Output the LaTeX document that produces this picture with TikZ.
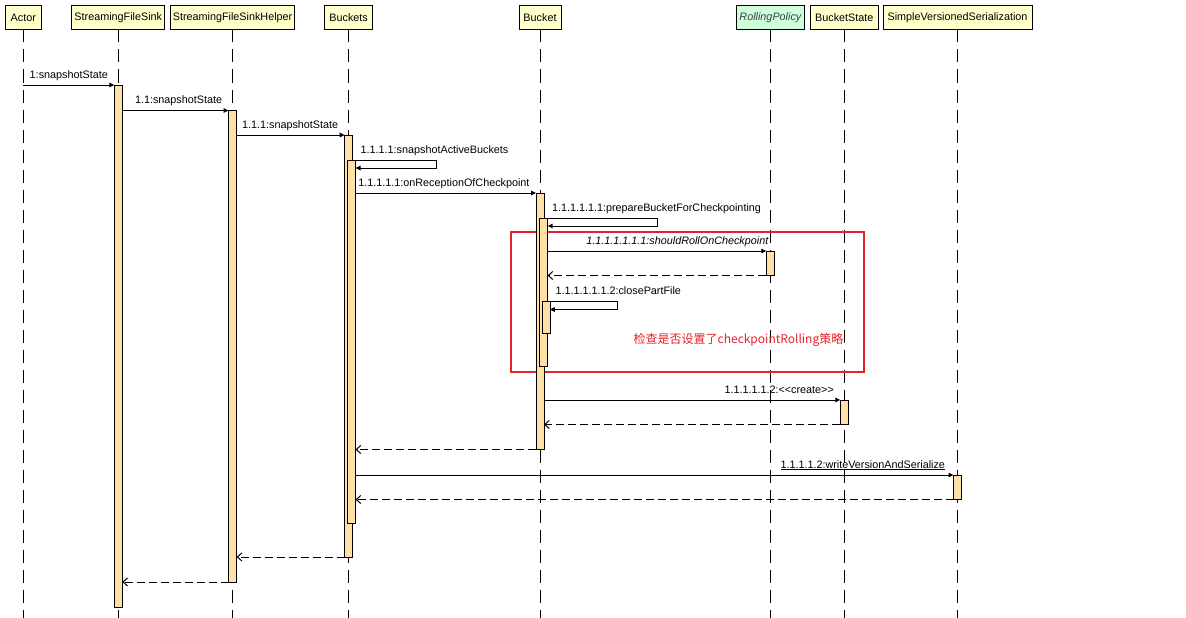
\documentclass[tikz,border=0pt]{standalone}
\usepackage{fontspec}
\setmainfont{Liberation Sans}
\newfontfamily\cjk{Noto Sans CJK SC}
\usetikzlibrary{arrows.meta}
\definecolor{headfill}{RGB}{255,255,204}
\definecolor{policyfill}{RGB}{204,255,218}
\definecolor{barfill}{RGB}{255,224,168}
\definecolor{notered}{RGB}{230,34,42}
\newcommand{\msgfont}{\fontsize{10.8}{12}\selectfont}

\begin{document}
\begin{tikzpicture}[x=1pt,y=-1pt,line width=1pt,
  head/.style={draw,fill=headfill,minimum height=24pt,inner sep=0pt,outer sep=0pt,font=\msgfont},
  life/.style={dash pattern=on 13pt off 7pt},
  bar/.style={draw,fill=barfill,minimum width=8pt,inner sep=0pt,outer sep=0pt},
  call/.style={-{Triangle[length=5pt,width=4.5pt]}},
  back/.style={dash pattern=on 8pt off 4pt,-{Straight Barb[length=4.5pt,width=8pt]}},
  lbl/.style={font=\msgfont,inner sep=0pt,pos=1,anchor=base east,xshift=-6pt,yshift=7pt},
  selflbl/.style={font=\msgfont,inner sep=0pt,anchor=base west,xshift=7.5pt,yshift=7pt}]

\useasboundingbox (0,0) rectangle (1186,618);
\coordinate (E) at (0,618);

\node[head,minimum width=36pt] (Actor) at (23.3,17.5) {Actor};
\node[head,minimum width=93pt] (Sink) at (118.3,17.5) {StreamingFileSink};
\node[head,minimum width=124pt] (Helper) at (232.6,17.5) {StreamingFileSinkHelper};
\node[head,minimum width=48pt] (Buckets) at (348.6,17.5) {Buckets};
\node[head,minimum width=42pt] (Bucket) at (540,17.5) {Bucket};
\node[head,minimum width=68pt,fill=policyfill,font=\msgfont\itshape,text=black!75] (Policy) at (770.4,17.5) {RollingPolicy};
\node[head,minimum width=68pt] (State) at (844.3,17.5) {BucketState};
\node[head,minimum width=149pt] (Serial) at (957.5,17.5) {SimpleVersionedSerialization};

\foreach \n in {Actor,Sink,Helper,Buckets,Bucket,Policy,State,Serial}
  \draw[life] (\n.south) -- (\n.south |- E);

\node[draw=notered,line width=1.5pt,minimum width=353pt,minimum height=140pt,inner sep=0pt] (Check) at (687.5,302) {};
\node[text=notered,font=\cjk\fontsize{12}{14}\selectfont,inner sep=0pt] (CheckText) at (738.5,340) {检查是否设置了checkpointRolling策略};

\node[bar,minimum height=522pt] (A_1) at (118.3,346) {};
\node[bar,minimum height=471.5pt] (A_2) at (232.6,346.25) {};
\node[bar,minimum height=422pt] (A_3) at (348.7,346) {};
\node[bar,minimum height=363.5pt] (A_4) at (351.5,341.75) {};
\node[bar,minimum height=256.5pt] (A_5) at (540,321.25) {};
\node[bar,minimum height=148pt] (A_6) at (543.5,292) {};
\node[bar,minimum height=31.5pt] (A_7) at (546.3,317.25) {};
\node[bar,minimum height=24.5pt] (A_8) at (770.3,263.25) {};
\node[bar,minimum height=24.5pt] (A_9) at (844.3,412.25) {};
\node[bar,minimum height=24.5pt] (A_10) at (957.5,487.25) {};

\draw[call] (Actor.south |- A_1.north) -- node[lbl]{1:snapshotState} (A_1.north west);
\draw[call] (A_1.east |- A_2.north) -- node[lbl]{1.1:snapshotState} (A_2.north west);
\draw[call] (A_2.east |- A_3.north) -- node[lbl]{1.1.1:snapshotState} (A_3.north west);
\draw[call] (A_3.east |- A_4.north) node[selflbl]{1.1.1.1:snapshotActiveBuckets} -- ++(83.3,0) -- ++(0,8) -- ++(-80.5,0);
\draw[call] (A_4.east |- A_5.north) -- node[lbl]{1.1.1.1.1:onReceptionOfCheckpoint} (A_5.north west);
\draw[call] (A_5.east |- A_6.north) node[selflbl]{1.1.1.1.1.1:prepareBucketForCheckpointing} -- ++(113,0) -- ++(0,8) -- ++(-109.3,0);
\draw[call] (A_6.east |- A_8.north) -- node[lbl,xshift=8.5pt,font=\msgfont\itshape]{1.1.1.1.1.1.1:shouldRollOnCheckpoint} (A_8.north west);
\draw[back] (A_8.south west) -- (A_6.east |- A_8.south);
\draw[call] (A_6.east |- A_7.north) node[selflbl]{1.1.1.1.1.1.2:closePartFile} -- ++(70.3,0) -- ++(0,8) -- ++(-68,0);
\draw[call] (A_5.east |- A_9.north) -- node[lbl]{1.1.1.1.1.2:<\kern0pt<create>\kern0pt>} (A_9.north west);
\draw[back] (A_9.south west) -- (A_5.east |- A_9.south);
\draw[back] (A_5.south west) -- (A_4.east |- A_5.south);
\draw[call] (A_4.east |- A_10.north) -- node[lbl,xshift=-2pt]{\underline{1.1.1.1.2:writeVersionAndSerialize}} (A_10.north west);
\draw[back] (A_10.south west) -- (A_4.east |- A_10.south);
\draw[back] (A_3.south west) -- (A_2.east |- A_3.south);
\draw[back] (A_2.south west) -- (A_1.east |- A_2.south);

\end{tikzpicture}
\end{document}
